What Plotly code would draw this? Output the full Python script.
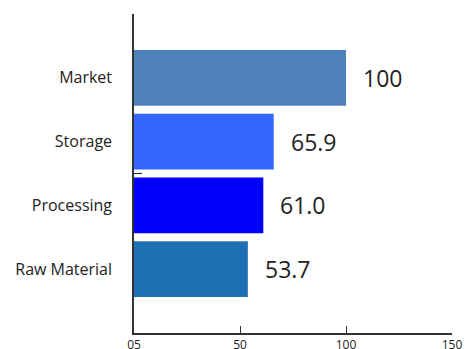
import plotly.graph_objects as go

categories = ["Raw Material", "Processing", "Storage", "Market"]
values = [53.7, 61.0, 65.9, 100]
labels = ["53.7", "61.0", "65.9", "100"]
colors = ["#1f6fb4", "#0000ff", "#3366ff", "#4f81bd"]
xtick_vals = [0, 50, 100, 150]
xtick_text = ["05", "50", "100", "150"]

fig = go.Figure()
fig.add_trace(go.Bar(
    y=categories, x=values, orientation="h",
    marker=dict(color=colors, line=dict(width=0)),
    hoverinfo="skip",
))
for c, v, t in zip(categories, values, labels):
    fig.add_annotation(x=v, y=c, text=t, showarrow=False, xanchor="left",
                       xshift=15, font=dict(family="Open Sans", size=23, color="#222222"))

fig.add_shape(type="line", xref="paper", yref="y", x0=0, x1=0.025, y0=1.5, y1=1.5,
              line=dict(color="#333333", width=1.2))

fig.update_layout(
    width=467, height=349,
    margin=dict(l=134, r=15, t=14, b=16),
    plot_bgcolor="white", paper_bgcolor="white",
    bargap=0.125,
    showlegend=False,
    font=dict(family="Open Sans", color="#222222"),
)
fig.update_xaxes(
    range=[0, 150], tickvals=xtick_vals, ticktext=xtick_text,
    showgrid=False, zeroline=False, showline=True, linecolor="#333333", linewidth=1.5,
    ticks="inside", ticklen=7, tickcolor="#333333", tickwidth=1,
    tickfont=dict(size=12, color="#222222"), automargin=False,
)
fig.update_yaxes(
    range=[-1, 4], showgrid=False, zeroline=False, showline=True,
    linecolor="#333333", linewidth=1.5, ticks="", ticklabelstandoff=17,
    tickfont=dict(size=16, color="#222222"), automargin=False,
)
fig.write_html("out.html")
